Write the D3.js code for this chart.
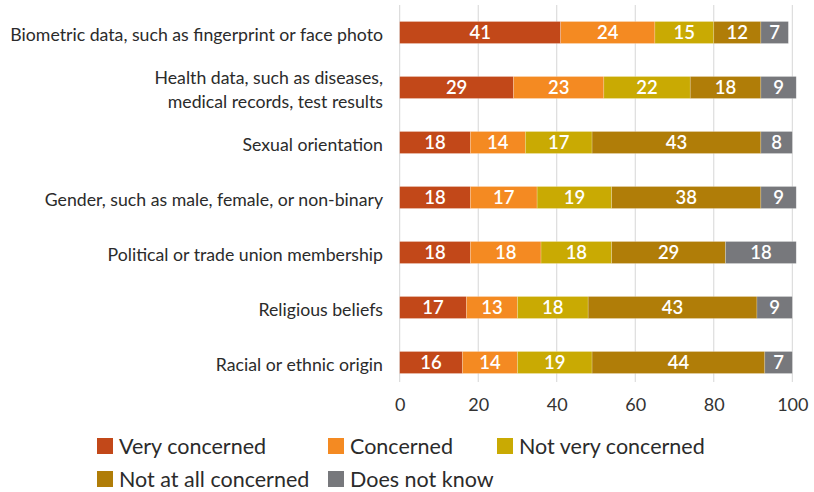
<!DOCTYPE html>
<html>
<head>
<meta charset="utf-8">
<script src="https://cdn.jsdelivr.net/npm/d3@7"></script>
<style>
  body { margin: 0; background: #fff; }
  svg { display: block; font-family: Lato, "Open Sans", sans-serif; }
</style>
</head>
<body>
<svg id="chart" width="814" height="492"></svg>
<script>
// Concern about sharing types of personal data (%)
const categories = [
  ["Biometric data, such as fingerprint or face photo"],
  ["Health data, such as diseases,", "medical records, test results"],
  ["Sexual orientation"],
  ["Gender, such as male, female, or non-binary"],
  ["Political or trade union membership"],
  ["Religious beliefs"],
  ["Racial or ethnic origin"]
];
const seriesNames = ["Very concerned", "Concerned", "Not very concerned", "Not at all concerned", "Does not know"];
const veryConcerned     = [41, 29, 18, 18, 18, 17, 16];
const concerned         = [24, 23, 14, 17, 18, 13, 14];
const notVeryConcerned  = [15, 22, 17, 19, 18, 18, 19];
const notAtAllConcerned = [12, 18, 43, 38, 29, 43, 44];
const doesNotKnow       = [7, 9, 8, 9, 18, 9, 7];
const xTicks = [0, 20, 40, 60, 80, 100];

const colors = ["#C24819", "#F48A22", "#C9AA03", "#B07D08", "#77787C"];
const seriesValues = [veryConcerned, concerned, notVeryConcerned, notAtAllConcerned, doesNotKnow];

const svg = d3.select("#chart");
const x = d3.scaleLinear().domain([0, 100]).range([399.7, 792.3]);
const y = d3.scaleBand().domain(d3.range(categories.length)).range([5, 390])
  .paddingInner(0.6).paddingOuter(0.3);

// vertical gridlines
svg.append("g").selectAll("line").data(xTicks).join("line")
  .attr("x1", d => x(d)).attr("x2", d => x(d))
  .attr("y1", 5).attr("y2", 382)
  .attr("stroke", "#d6d6d6").attr("stroke-width", 1);

// x axis tick labels
const xAxis = d3.axisBottom(x).tickValues(xTicks).tickSize(0).tickPadding(0);
const gx = svg.append("g").attr("transform", "translate(0,405)").call(xAxis);
gx.select(".domain").remove();
gx.selectAll("text").attr("font-size", 18).attr("fill", "#333").attr("dy", "0.35em")
  .attr("font-family", "Lato, sans-serif");

// stacked segments
const rows = categories.map((c, i) => seriesValues.map(s => s[i]));
rows.forEach((vals, i) => {
  let acc = 0;
  const g = svg.append("g");
  vals.forEach((v, j) => {
    const x0 = x(acc), x1 = x(acc + v);
    g.append("rect")
      .attr("x", x0).attr("y", y(i))
      .attr("width", x1 - x0).attr("height", y.bandwidth())
      .attr("fill", colors[j])
      .attr("stroke", "rgba(255,255,255,0.35)").attr("stroke-width", 0.6);
    g.append("text")
      .attr("x", (x0 + x1) / 2).attr("y", y(i) + y.bandwidth() / 2)
      .attr("dy", "0.36em").attr("text-anchor", "middle")
      .attr("fill", "#fff").attr("font-size", 18.5).attr("font-weight", 600)
      .text(v);
    acc += v;
  });
});

// category labels
const gy = svg.append("g");
categories.forEach((lines, i) => {
  const cy = y(i) + y.bandwidth() / 2 + 2.5;
  const t = gy.append("text")
    .attr("x", 383).attr("text-anchor", "end")
    .attr("font-size", 17.7).attr("fill", "#2b2b2b");
  const lh = 24;
  lines.forEach((ln, k) => {
    t.append("tspan").attr("x", 383)
      .attr("y", cy + (k - (lines.length - 1) / 2) * lh)
      .attr("dy", "0.35em").text(ln);
  });
});

// legend
const legendPos = [[97, 446], [328, 446], [497, 446], [97, 479], [328, 479]];
const lg = svg.append("g");
seriesNames.forEach((name, j) => {
  const [lx, ly] = legendPos[j];
  lg.append("rect").attr("x", lx).attr("y", ly - 8).attr("width", 16).attr("height", 16)
    .attr("fill", colors[j]);
  lg.append("text").attr("x", lx + 22).attr("y", ly).attr("dy", "0.36em")
    .attr("font-size", 21.5).attr("fill", "#2b2b2b").text(name);
});
</script>
</body>
</html>
